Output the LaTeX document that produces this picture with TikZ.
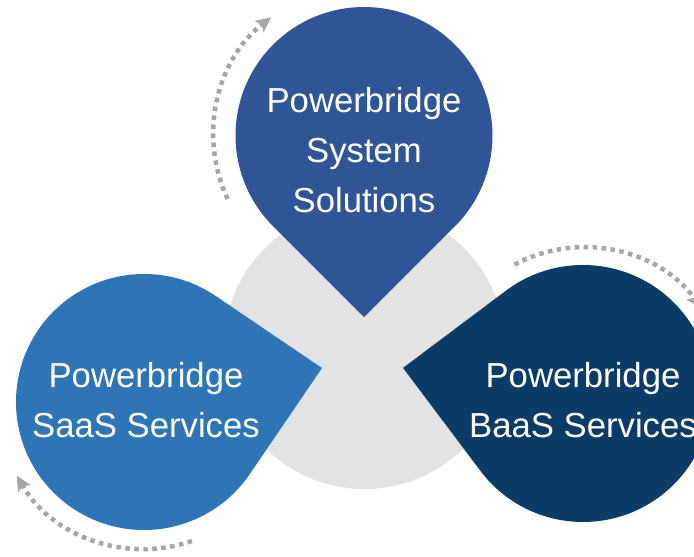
\documentclass[tikz,border=0pt]{standalone}
\usepackage{fontspec}
\setmainfont{Liberation Sans}
\usetikzlibrary{arrows.meta}
\definecolor{sysblue}{HTML}{2F5597}
\definecolor{saasblue}{HTML}{2E75B6}
\definecolor{baasblue}{HTML}{0B3C68}
\definecolor{hubgray}{HTML}{E3E3E3}
\definecolor{dotgray}{HTML}{A6A6A6}
\begin{document}
\begin{tikzpicture}[x=1pt,y=1pt,
  lbl/.style={text=white, align=center, inner sep=0pt, font=\fontsize{34.7}{50}\selectfont},
  dotarc/.style={draw=dotgray, line width=4.5pt, dash pattern=on 4.5pt off 4.5pt,
    -{Stealth[length=15pt,width=14pt,inset=3pt]}}]
\useasboundingbox (0,0) rectangle (694,557);
% hub circle
\fill[hubgray] (364.5,209) circle[radius=141pt];
% top teardrop
\fill[sysblue, shift={(364,421.5)}] (-90:181.5pt) -- (-45.1:128.5pt)
  arc[start angle=-45.1, end angle=225.1, radius=128.5pt] -- cycle;
% left teardrop
\fill[saasblue, shift={(144,155)}] (10.8:181.2pt) -- (55.85:128pt)
  arc[start angle=55.85, end angle=325.75, radius=128pt] -- cycle;
% right teardrop
\fill[baasblue, shift={(583,163.5)}] (171.9:181.8pt) -- (216.9:128.5pt)
  arc[start angle=216.9, end angle=486.9, radius=128.5pt] -- cycle;
% dotted arrows
\coordinate (c1) at (363.5,421.5);
\coordinate (c2) at (583,163.5);
\coordinate (c3) at (144,155);
\path[dotarc] ([shift={(205:150pt)}]c1) arc[start angle=205, end angle=128, radius=150pt];
\path[dotarc] ([shift={(118:146pt)}]c2) arc[start angle=118, end angle=36, radius=146pt];
\path[dotarc] ([shift={(-71:147pt)}]c3) arc[start angle=-71, end angle=-150, radius=147pt];
% labels
\node[lbl] (sys) at (364,407) {Powerbridge\\System\\Solutions};
\node[lbl] (saas) at (146,157) {Powerbridge\\SaaS Services};
\node[lbl] (baas) at (583,157) {Powerbridge\\BaaS Services};
\end{tikzpicture}
\end{document}
